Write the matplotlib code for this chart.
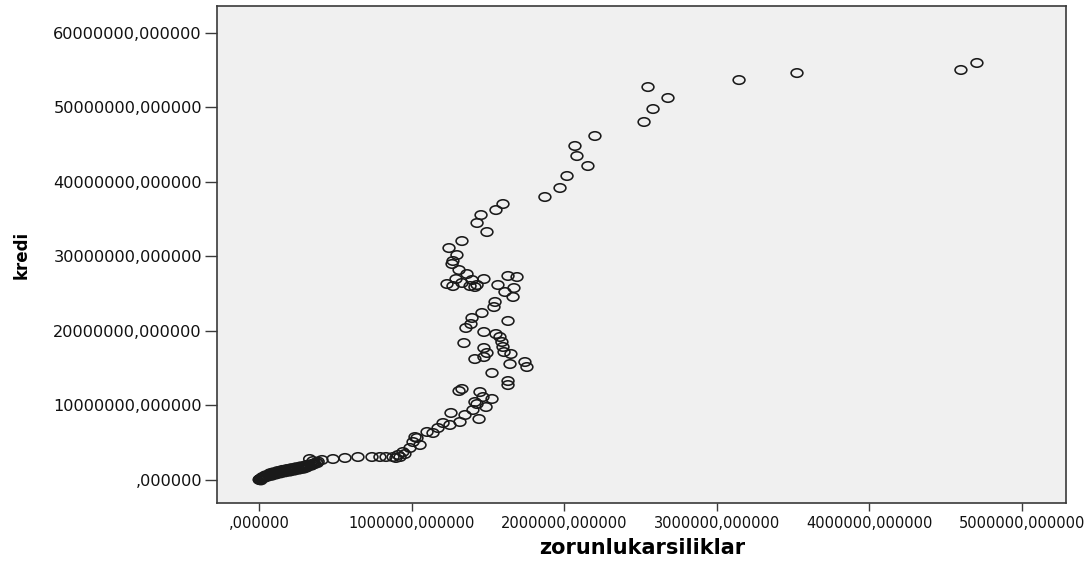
import numpy as np
import matplotlib
matplotlib.use("Agg")
import matplotlib.pyplot as plt
from matplotlib.path import Path
from matplotlib.ticker import FuncFormatter, FixedLocator

# ---- data (values in millions) ----
SCALE = 1e6

band_x = [0, 0, 0.003, 0.006, 0.01, 0.014, 0.018, 0.022, 0.027, 0.032, 0.038, 0.045,
          0.052, 0.06, 0.068, 0.077, 0.086, 0.095, 0.105, 0.115, 0.125, 0.136, 0.147,
          0.158, 0.17, 0.182, 0.194, 0.206, 0.218, 0.23, 0.242, 0.254, 0.266, 0.278,
          0.29, 0.302, 0.314, 0.326, 0.338, 0.35, 0.362, 0.374, 0.386,
          0.1, 0.2, 0.28, 0.34, 0.33,
          0.02, 0.04, 0.07, 0.09, 0.12, 0.15, 0.18, 0.21, 0.24, 0.27, 0.3, 0.32,
          0.01, 0.03, 0.05, 0.08, 0.11, 0.14, 0.17, 0.2, 0.23, 0.26, 0.29, 0.31, 0.36, 0.38]
band_y = [0, -0.05, 0.03, 0.06, 0.1, 0.14, 0.18, 0.22, 0.27, 0.32, 0.38, 0.44,
          0.5, 0.56, 0.62, 0.68, 0.74, 0.8, 0.86, 0.92, 0.98, 1.04, 1.09,
          1.14, 1.19, 1.24, 1.29, 1.34, 1.39, 1.44, 1.49, 1.54, 1.59, 1.64,
          1.69, 1.75, 1.82, 1.9, 1.99, 2.08, 2.18, 2.29, 2.4,
          0.7, 1.15, 1.5, 1.85, 2.75,
          0.32, 0.55, 0.83, 0.95, 1.13, 1.28, 1.4, 1.52, 1.64, 1.76, 1.88, 2.0,
          -0.12, 0.2, 0.35, 0.5, 0.68, 0.83, 0.97, 1.07, 1.2, 1.33, 1.45, 1.6, 2.05, 2.2]

zorunlu = [4.706, 4.601, 3.526, 3.146, 2.549, 2.680, 2.582, 2.523, 2.201, 2.070,
           2.083, 2.155, 2.018, 1.972, 1.873, 1.598, 1.552, 1.454, 1.428, 1.493,
           1.329, 1.244, 1.296, 1.270, 1.264, 1.310, 1.362, 1.290, 1.395, 1.473,
           1.231, 1.270, 1.329, 1.382, 1.414, 1.428, 1.631, 1.690, 1.565, 1.670,
           1.611, 1.664, 1.546, 1.539, 1.460, 1.395, 1.388, 1.355, 1.631, 1.473,
           1.552, 1.578, 1.591, 1.598, 1.342, 1.473, 1.493, 1.605, 1.650, 1.473,
           1.414, 1.644, 1.742, 1.755, 1.526, 1.631, 1.631, 1.329, 1.310, 1.447,
           1.467, 1.526, 1.414, 1.428, 1.487, 1.401, 1.257, 1.349, 1.441, 1.316,
           1.205, 1.250, 1.172, 1.100, 1.139, 1.021, 1.034, 1.008, 1.054, 0.988,
           0.942, 0.910, 0.877, 0.791, 0.739, 0.647, 0.562, 0.483, 0.411, 0.352,
           0.923, 0.955, 0.896, 0.831]
kredi = [55.91, 54.97, 54.56, 53.62, 52.68, 51.21, 49.73, 47.99, 46.11, 44.77,
         43.42, 42.08, 40.74, 39.13, 37.92, 36.98, 36.17, 35.50, 34.43, 33.22,
         32.01, 31.07, 30.13, 29.33, 28.93, 28.12, 27.58, 26.91, 26.78, 26.91,
         26.24, 25.97, 26.38, 25.97, 25.84, 26.11, 27.32, 27.18, 26.11, 25.70,
         25.17, 24.50, 23.83, 23.15, 22.35, 21.68, 20.87, 20.34, 21.28, 19.80,
         19.53, 19.13, 18.46, 17.79, 18.32, 17.65, 16.98, 17.11, 16.85, 16.44,
         16.17, 15.50, 15.77, 15.10, 14.30, 13.22, 12.68, 12.15, 11.88, 11.74,
         11.07, 10.81, 10.40, 10.13, 9.73, 9.33, 8.93, 8.66, 8.12, 7.72,
         7.58, 7.32, 6.91, 6.38, 6.24, 5.70, 5.57, 5.03, 4.63, 4.23,
         3.69, 3.29, 3.02, 3.02, 3.02, 3.02, 2.89, 2.75, 2.62, 2.48,
         3.02, 3.42, 2.89, 3.02]

x_ticks = [0, 1, 2, 3, 4, 5]
y_ticks = [0, 10, 20, 30, 40, 50, 60]

xs = np.array(band_x + zorunlu) * SCALE
ys = np.array(band_y + kredi) * SCALE

# ---- figure ----
fig = plt.figure(figsize=(10.9, 5.61), dpi=100)
ax = fig.add_axes([216.5 / 1090, (561 - 503) / 561, (1066 - 216.5) / 1090, (503 - 6) / 561])
ax.set_facecolor("#f0f0f0")

circ = Path.unit_circle()
ell = Path(circ.vertices * np.array([1.0, 0.72]), circ.codes)

ax.scatter(xs, ys, marker=ell, s=72, facecolors="none",
           edgecolors="#1a1a1a", linewidths=1.15, zorder=3)

ax.set_xlim(-0.2807 * SCALE, 5.290 * SCALE)
ax.set_ylim(-3.154 * SCALE, 63.56 * SCALE)

def fmt(v, pos=None):
    if abs(v) < 0.5:
        return ",000000"
    return f"{v:.6f}".replace(".", ",")

ax.xaxis.set_major_locator(FixedLocator([t * SCALE for t in x_ticks]))
ax.yaxis.set_major_locator(FixedLocator([t * SCALE for t in y_ticks]))
ax.xaxis.set_major_formatter(FuncFormatter(fmt))
ax.yaxis.set_major_formatter(FuncFormatter(fmt))

for s in ax.spines.values():
    s.set_color("#3a3a3a")
    s.set_linewidth(1.2)

ax.tick_params(axis="x", direction="out", length=6, width=1.0, color="#3a3a3a",
               labelsize=10.5, labelcolor="#111111", pad=3)
ax.tick_params(axis="y", direction="out", length=9, width=1.0, color="#3a3a3a",
               labelsize=11.6, labelcolor="#111111", pad=1.5)
for lab in ax.get_xticklabels() + ax.get_yticklabels():
    lab.set_family("DejaVu Sans")

ax.set_xlabel("zorunlukarsiliklar", fontsize=15, fontweight="bold",
              family="DejaVu Sans", va="center")
ax.xaxis.set_label_coords((642.5 - 216.5) / 849.5, (503 - 548) / 497)
ax.set_ylabel("kredi", fontsize=12, fontweight="bold",
              family="DejaVu Sans", va="center")
ax.yaxis.set_label_coords((22 - 216.5) / 849.5, 0.5)

fig.savefig("out.png", dpi=100)
